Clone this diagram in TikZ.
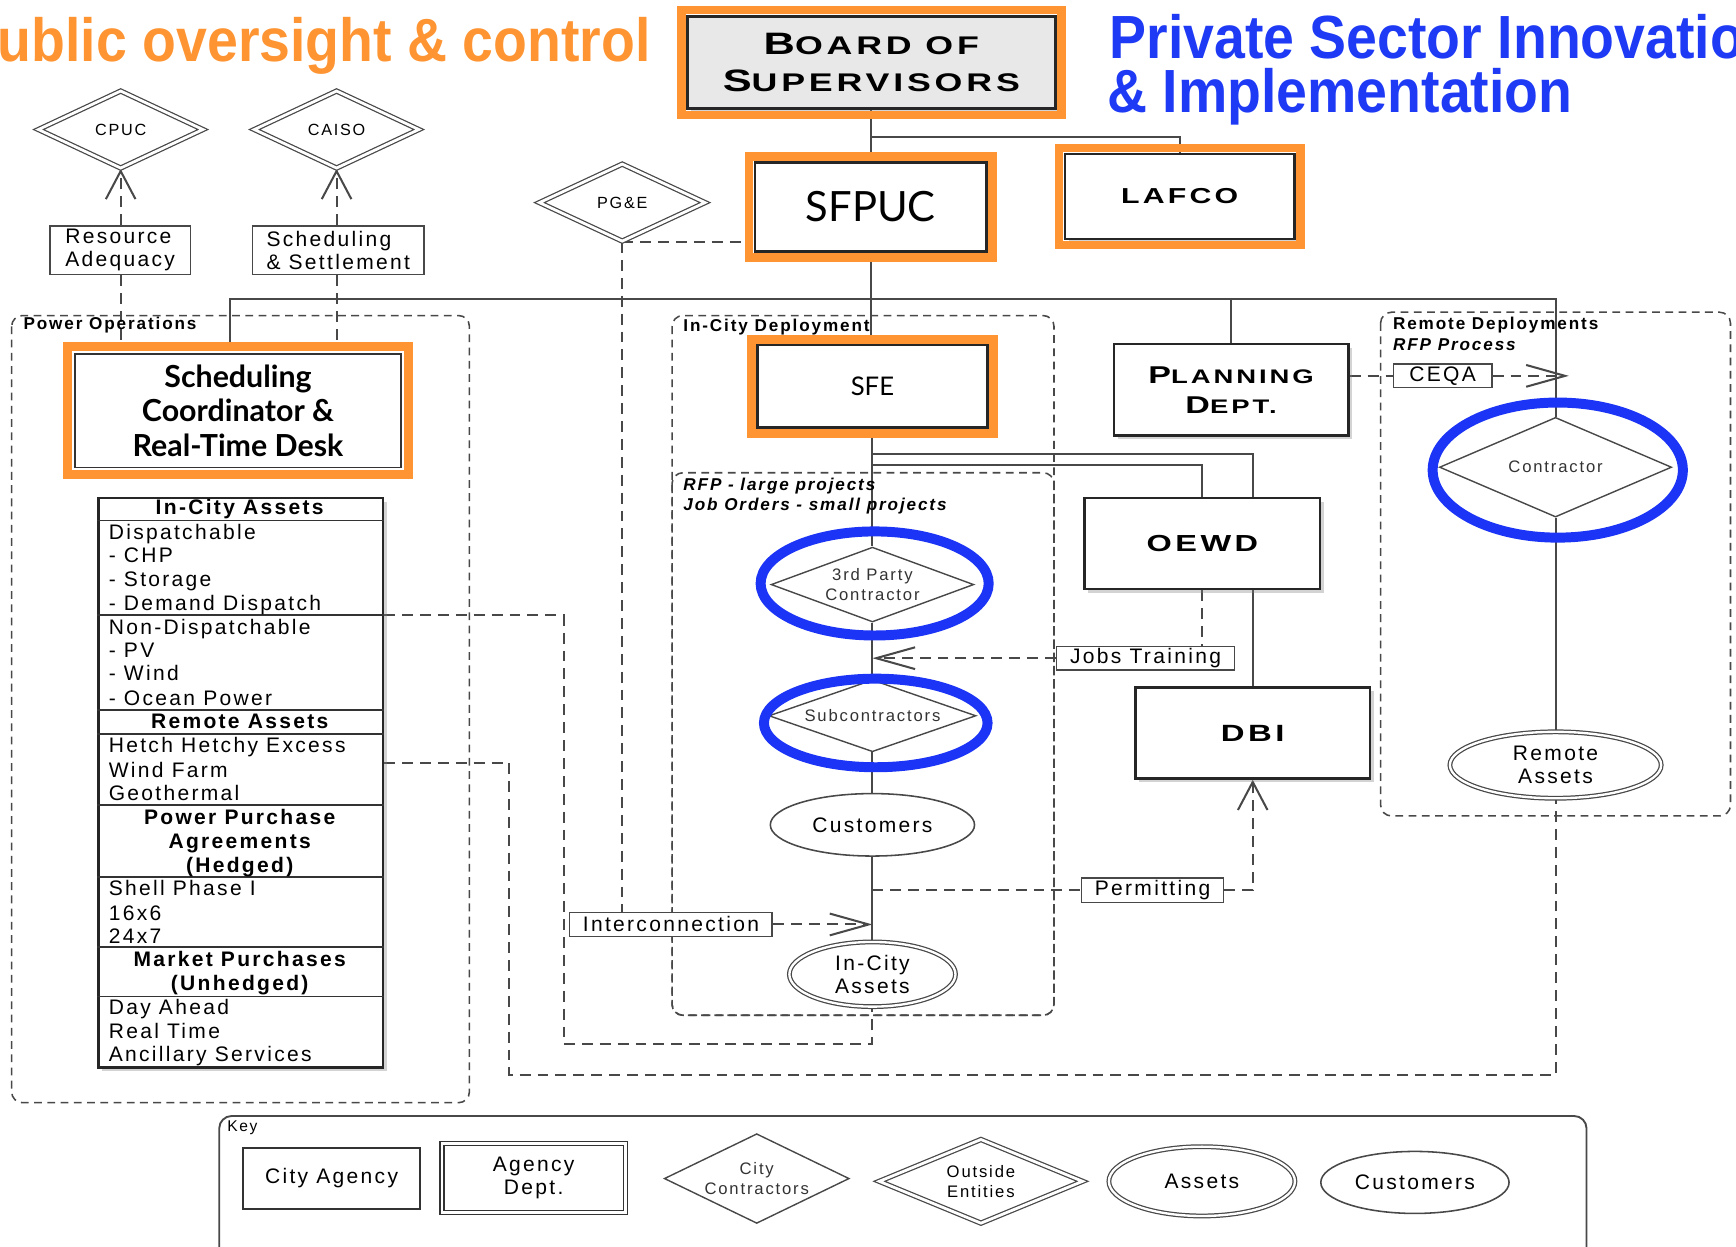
\documentclass[tikz,border=0pt]{standalone}
\usepackage{fontspec}
\usepackage{tikz}
\usetikzlibrary{arrows.meta,shapes,positioning,fit,shadows,backgrounds,calc}
\setmainfont{Liberation Sans}
\newfontfamily\bodyfont{Liberation Sans}[LetterSpace=11]
\newfontfamily\platefont{Liberation Sans}[FakeStretch=1.4,LetterSpace=15]
\newfontfamily\gillfont{Lato}
\definecolor{hiorange}{RGB}{254,148,50}
\definecolor{hiblue}{RGB}{28,52,245}
\definecolor{titleblue}{RGB}{30,58,245}
\definecolor{linegray}{RGB}{72,72,72}
\newcommand{\bigc}[2]{{\fontsize{#1}{#1}\selectfont #2}}

\begin{document}
\begin{tikzpicture}[x=0.025cm, y=-0.025cm,
  txt/.style={font=\bodyfont\fontsize{13.5}{15}\selectfont},
  smalltxt/.style={font=\bodyfont\fontsize{10.7}{12.8}\selectfont, text=black!80},
  grouplbl/.style={font=\bodyfont\bfseries\fontsize{11}{13}\selectfont, anchor=base west, inner sep=0pt},
  grouplblit/.style={grouplbl, font=\bodyfont\bfseries\itshape\fontsize{11}{13}\selectfont},
  conn/.style={draw=linegray, line width=1.3pt},
  dconn/.style={conn, dash pattern=on 7pt off 4.5pt},
  barbup/.style={-{Straight Barb[length=18pt,width=19pt]}},
  barbside/.style={-{Straight Barb[length=25pt,width=14pt]}},
  opsframe/.style={draw=linegray, line width=1pt, dash pattern=on 5pt off 3.5pt, rounded corners=7pt},
  agency/.style={rectangle, draw=black!85, line width=1.6pt, fill=white, inner sep=0pt,
    drop shadow={shadow xshift=2.5pt, shadow yshift=-2.5pt, opacity=0.35}},
  keybox/.style={rectangle, draw=black!80, line width=1.2pt, fill=white, inner sep=0pt, align=center, txt},
  dept/.style={rectangle, draw=black!80, line width=0.9pt, double, double distance=1.6pt, fill=white, inner sep=0pt},
  hilite/.style={draw=hiorange, line width=5.6pt, inner sep=3pt},
  entity/.style={diamond, aspect=2.2, draw=linegray, line width=0.8pt, double, double distance=1.8pt, fill=white,
    inner sep=0pt, align=center, font=\bodyfont\fontsize{10.4}{12}\selectfont},
  contractor/.style={diamond, aspect=2.6, draw=linegray, line width=0.9pt, fill=white, inner sep=0pt, align=center, smalltxt},
  assetnode/.style={ellipse, draw=linegray, line width=0.8pt, double, double distance=1.5pt, fill=white,
    inner sep=0pt, align=center, txt},
  customer/.style={ellipse, draw=linegray, line width=1pt, fill=white, inner sep=0pt, txt},
  labelbox/.style={rectangle, draw=linegray, line width=1pt, fill=white, inner sep=0pt, align=left, txt},
  blueloop/.style={draw=hiblue, line width=6.4pt}
]
\useasboundingbox (0,0) rectangle (1568,1125.5);

% headings
\node[anchor=base east, inner sep=0pt, text=hiorange, font=\bfseries\fontsize{35.6}{40}\selectfont, yscale=1.1] (pubtitle) at (588,56) {Public oversight \& control};
\node[anchor=base west, inner sep=0pt, text=titleblue, font=\bfseries\fontsize{35.6}{40}\selectfont, yscale=1.1] (privtitle) at (1002,53) {Private Sector Innovation};
\node[anchor=base west, inner sep=0pt, text=titleblue, font=\bfseries\fontsize{35.6}{40}\selectfont, yscale=1.1] (privtitle2) at (1000,102) {\& Implementation};

% city agencies
\node[agency, fill=black!9, line width=2pt, minimum width=8.3cm, minimum height=2.09cm, align=center,
  font=\platefont\bfseries\fontsize{16.4}{24.2}\selectfont] (board) at (787,56.5) {\bigc{19.9pt}{B}OARD OF\\\bigc{19.9pt}{S}UPERVISORS};
\node[hilite, fit=(board)] (boardhi) {};
\node[agency, minimum width=5.225cm, minimum height=2cm, font=\gillfont\fontsize{26.8}{30}\selectfont] (sfpuc) at (786.5,187) {SFPUC};
\node[hilite, fit=(sfpuc)] (sfpuchi) {};
\node[agency, minimum width=5.175cm, minimum height=1.925cm, font=\platefont\bfseries\fontsize{13.9}{16}\selectfont] (lafco) at (1065.5,177.5) {LAFCO};
\node[hilite, fit=(lafco)] (lafcohi) {};
\node[agency, minimum width=5.2cm, minimum height=1.86cm, font=\gillfont\fontsize{16.5}{20}\selectfont] (sfe) at (788,349) {SFE};
\node[hilite, fit=(sfe)] (sfehi) {};
\node[agency, minimum width=5.3cm, minimum height=2.06cm, align=center,
  font=\platefont\bfseries\fontsize{12.6}{19.3}\selectfont] (plan) at (1112,352) {\bigc{15.6pt}{P}LANNING\\\bigc{15.6pt}{D}EPT.};
\node[agency, minimum width=5.32cm, minimum height=2.06cm, font=\platefont\bfseries\fontsize{14.9}{17}\selectfont] (oewd) at (1086,491) {OEWD};
\node[agency, minimum width=5.3cm, minimum height=2.06cm, font=\platefont\bfseries\fontsize{15.1}{17}\selectfont] (dbi) at (1131.5,662) {DBI};

% outside entities
\node[entity, minimum width=3.725cm, minimum height=1.75cm] (cpuc) at (109,117) {CPUC};
\node[entity, minimum width=3.725cm, minimum height=1.75cm] (caiso) at (304,117) {CAISO};
\node[entity, minimum width=3.75cm, minimum height=1.75cm] (pge) at (562,183) {PG\&E};
\node[labelbox, minimum width=3.175cm, minimum height=1.1cm] (resad) at (108.5,226) {Resource\\Adequacy};
\node[labelbox, minimum width=3.875cm, minimum height=1.1cm] (settle) at (305.5,226) {Scheduling\\\& Settlement};

% power operations
\draw[opsframe] (10.5,285) rectangle (424,996);
\node[grouplbl] (powerops) at (21,298) {Power Operations};
\node[dept, minimum width=7.45cm, minimum height=2.65cm, align=center,
  font=\gillfont\bfseries\fontsize{19.5}{22}\selectfont] (sched) at (215,371) {Scheduling\\Coordinator \&\\Real-Time Desk};
\node[hilite, fit=(sched)] (schedhi) {};
\node[rectangle, draw=black!85, line width=1.4pt, fill=white, inner sep=0pt, anchor=north west,
  minimum width=6.425cm, minimum height=12.85cm,
  drop shadow={shadow xshift=2.5pt, shadow yshift=-2.5pt, opacity=0.35}] (tbl) at (88,449) {};
\foreach \yy in {470,555.5,641.5,663,727,792,855.5,900}
  \draw[line width=1.1pt, black!80] (tbl.west |- 0,\yy) -- (tbl.east |- 0,\yy);
\foreach \txt/\yy [count=\i] in {Dispatchable/487, - CHP/508, - Storage/530, - Demand Dispatch/551,
    Non-Dispatchable/573, - PV/594, - Wind/615, - Ocean Power/637,
    Hetch Hetchy Excess/680, Wind Farm/702, Geothermal/723,
    Shell Phase I/809, 16x6/831, 24x7/852, Day Ahead/916, Real Time/938, Ancillary Services/959}
  \node[txt, anchor=base west, inner sep=0pt] (row\i) at (98,\yy) {\txt};
\node[txt, font=\bodyfont\bfseries\fontsize{13.5}{15}\selectfont, anchor=base, inner sep=0pt] (hdincity) at (216.5,465) {In-City Assets};
\node[txt, font=\bodyfont\bfseries\fontsize{13.5}{15}\selectfont, anchor=base, inner sep=0pt] (hdremote) at (216.5,658) {Remote Assets};
\node[txt, font=\bodyfont\bfseries\fontsize{13.5}{15}\selectfont, anchor=base, inner sep=0pt] (hdppa) at (216.5,745) {Power Purchase};
\node[txt, font=\bodyfont\bfseries\fontsize{13.5}{15}\selectfont, anchor=base, inner sep=0pt] (hdppb) at (216.5,766) {Agreements};
\node[txt, font=\bodyfont\bfseries\fontsize{13.5}{15}\selectfont, anchor=base, inner sep=0pt] (hdppc) at (216.5,788) {(Hedged)};
\node[txt, font=\bodyfont\bfseries\fontsize{13.5}{15}\selectfont, anchor=base, inner sep=0pt] (hdmka) at (216.5,873) {Market Purchases};
\node[txt, font=\bodyfont\bfseries\fontsize{13.5}{15}\selectfont, anchor=base, inner sep=0pt] (hdmkb) at (216.5,895) {(Unhedged)};

% in-city deployment
\draw[opsframe] (607,285) rectangle (952,917);
\draw[opsframe] (607,427) rectangle (952,917);
\node[grouplbl] (incitydep) at (617,299) {In-City Deployment};
\node[grouplblit] (rfpnote) at (617,443) {RFP - large projects};
\node[grouplblit] (jobnote) at (617,461) {Job Orders - small projects};
\node[contractor, minimum width=4.575cm, minimum height=1.69cm] (tpc) at (788,528) {3rd Party\\Contractor};
\node[contractor, minimum width=4.675cm, minimum height=1.625cm] (subc) at (788,646.5) {Subcontractors};
\node[customer, minimum width=4.61cm, minimum height=1.41cm] (cust) at (788,745) {Customers};
\node[assetnode, minimum width=3.75cm, minimum height=1.46cm] (incity) at (788,880) {In-City\\Assets};
\node[labelbox, minimum width=4.575cm, minimum height=0.54cm] (icon) at (606,835) {Interconnection};
\node[labelbox, minimum width=4.015cm, minimum height=0.525cm] (jobs) at (1034.7,594.5) {Jobs Training};
\node[labelbox, minimum width=3.2cm, minimum height=0.55cm] (permit) at (1041,804) {Permitting};

% remote deployments
\draw[opsframe] (1247,282) rectangle (1563,737);
\node[grouplbl] (remotedep) at (1258,298) {Remote Deployments};
\node[grouplblit] (rfpproc) at (1258,317) {RFP Process};
\node[labelbox, minimum width=2.225cm, minimum height=0.525cm] (ceqa) at (1303,339.5) {CEQA};
\node[contractor, minimum width=5.24cm, minimum height=2.25cm] (contr) at (1405,422) {Contractor};
\node[assetnode, minimum width=4.77cm, minimum height=1.5cm] (remote) at (1405,691) {Remote\\Assets};

% key
\draw[draw=linegray, line width=1.2pt, rounded corners=8pt] (198,1008) rectangle (1433,1150);
\node[anchor=base west, inner sep=0pt, font=\bodyfont\fontsize{10}{12}\selectfont] (keylbl) at (205,1022) {Key};
\node[keybox, minimum width=4cm, minimum height=1.375cm] (keycity) at (299.5,1064.5) {City Agency};
\node[dept, minimum width=4.14cm, minimum height=1.55cm, align=center, txt] (keydept) at (482,1064) {Agency\\Dept.};
\node[contractor, aspect=2, minimum width=4.175cm, minimum height=2.025cm] (keycontr) at (683.5,1064.5) {City\\Contractors};
\node[entity, aspect=2.4, minimum width=4.6cm, minimum height=1.9cm, font=\bodyfont\fontsize{10.7}{12.8}\selectfont] (keyent) at (886,1067) {Outside\\Entities};
\node[assetnode, minimum width=4.2cm, minimum height=1.565cm] (keyasset) at (1085.6,1067) {Assets};
\node[customer, minimum width=4.25cm, minimum height=1.4cm] (keycust) at (1278,1068) {Customers};

% highlight rings
\draw[blueloop] ($(tpc.center)+(2,-1)$) ellipse [x radius=103, y radius=47];
\draw[blueloop] ($(subc.center)+(3,6.5)$) ellipse [x radius=101, y radius=40];
\draw[blueloop] ($(contr.center)+(2,2.6)$) ellipse [x radius=113, y radius=61];

\begin{scope}[on background layer]
  \coordinate (busL) at (208,270);
  \coordinate (busR) at (1405,270);
  \coordinate (dj1) at (509,943);
  \coordinate (dj2) at (460,971);
  \draw[conn] (board.south) -- (board.south |- sfpuc.north);
  \draw[conn] (board.south |- 0,124) -| (lafco.north);
  \draw[conn] (sfpuc.south) -- (sfpuc.south |- sfe.north);
  \draw[conn] (busL |- sched.north) -- (busL) -- (busR) -- (busR |- contr.north);
  \draw[conn] (plan.north |- busL) -- (plan.north);
  \draw[conn] (sfe.south |- 0,410) -| (dbi.north);
  \draw[conn] (sfe.south |- 0,420) -| (oewd.north);
  \draw[conn] (sfe.south) -- (tpc.north);
  \draw[conn] (tpc.south) -- (subc.north);
  \draw[conn] (subc.south) -- (cust.north);
  \draw[conn] (cust.south) -- (incity.north);
  \draw[conn] (contr.south) -- (remote.north);
  \draw[dconn, barbup] (cpuc.south |- resad.north) -- (cpuc.south);
  \draw[dconn] (cpuc.south |- resad.south) -- (cpuc.south |- sched.north);
  \draw[dconn, barbup] (caiso.south |- settle.north) -- (caiso.south);
  \draw[dconn] (caiso.south |- settle.south) -- (caiso.south |- sched.north);
  \draw[dconn] (pge.south) -- (pge.south |- icon.north);
  \draw[dconn] (pge.south) -- (pge.south -| sfpuchi.west);
  \draw[dconn] (tbl.east |- 0,555.5) -| (dj1) -| (incity.south);
  \draw[dconn] (tbl.east |- 0,689) -| (dj2) -| (remote.south);
  \draw[dconn, barbside] (icon.east) -- (icon.east -| incity.north);
  \draw[dconn] (oewd.south) -- (oewd.south |- jobs.north);
  \draw[dconn, barbside] (jobs.west) -- (jobs.west -| tpc.south);
  \draw[dconn] (cust.south |- permit.west) -- (permit.west);
  \draw[dconn, barbup] (permit.east) -| (dbi.south);
  \draw[dconn] (plan.east |- ceqa.west) -- (ceqa.west);
  \draw[dconn, barbside] (ceqa.east) -- ($(ceqa.east -| contr.north)+(12,0)$);
\end{scope}
\end{tikzpicture}
\end{document}
